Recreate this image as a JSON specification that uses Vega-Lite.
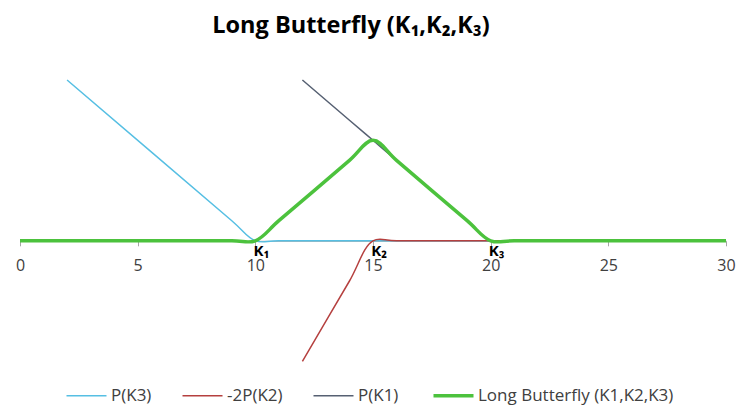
{
  "$schema": "https://vega.github.io/schema/vega-lite/v6.json",
  "width": 706,
  "height": 281.4,
  "autosize": {"type": "none"},
  "padding": {"left": 20, "top": 80, "right": 12, "bottom": 45.6},
  "background": "white",
  "title": {
    "text": "Long Butterfly (K₁,K₂,K₃)",
    "font": "Open Sans",
    "fontSize": 23.5,
    "fontWeight": "bold",
    "color": "#000000",
    "anchor": "middle",
    "frame": "group",
    "dx": -22,
    "offset": 40
  },
  "config": {"view": {"stroke": null}, "font": "Open Sans"},
  "datasets": {
    "lines": [
      {"series": "P(K3)", "x": 2, "y": 8},
      {"series": "P(K3)", "x": 9, "y": 1},
      {"series": "P(K3)", "x": 10, "y": 0},
      {"series": "P(K3)", "x": 11, "y": 0},
      {"series": "P(K3)", "x": 30, "y": 0},
      {"series": "-2P(K2)", "x": 12, "y": -6},
      {"series": "-2P(K2)", "x": 14, "y": -2},
      {"series": "-2P(K2)", "x": 15, "y": 0},
      {"series": "-2P(K2)", "x": 16, "y": 0},
      {"series": "-2P(K2)", "x": 30, "y": 0},
      {"series": "P(K1)", "x": 12, "y": 8},
      {"series": "P(K1)", "x": 14, "y": 6},
      {"series": "P(K1)", "x": 15, "y": 5},
      {"series": "P(K1)", "x": 16, "y": 4},
      {"series": "P(K1)", "x": 19, "y": 1},
      {"series": "P(K1)", "x": 20, "y": 0},
      {"series": "P(K1)", "x": 21, "y": 0},
      {"series": "P(K1)", "x": 30, "y": 0},
      {"series": "Long Butterfly (K1,K2,K3)", "x": 0, "y": 0},
      {"series": "Long Butterfly (K1,K2,K3)", "x": 9, "y": 0},
      {"series": "Long Butterfly (K1,K2,K3)", "x": 10, "y": 0},
      {"series": "Long Butterfly (K1,K2,K3)", "x": 11, "y": 1},
      {"series": "Long Butterfly (K1,K2,K3)", "x": 14, "y": 4},
      {"series": "Long Butterfly (K1,K2,K3)", "x": 15, "y": 5},
      {"series": "Long Butterfly (K1,K2,K3)", "x": 16, "y": 4},
      {"series": "Long Butterfly (K1,K2,K3)", "x": 19, "y": 1},
      {"series": "Long Butterfly (K1,K2,K3)", "x": 20, "y": 0},
      {"series": "Long Butterfly (K1,K2,K3)", "x": 21, "y": 0},
      {"series": "Long Butterfly (K1,K2,K3)", "x": 30, "y": 0}
    ],
    "labels": [
      {"x": 10, "label": "K₁"},
      {"x": 15, "label": "K₂"},
      {"x": 20, "label": "K₃"}
    ]
  },
  "layer": [
    {
      "data": {"name": "lines"},
      "mark": {"type": "line", "interpolate": "catmull-rom"},
      "encoding": {
        "x": {
          "field": "x",
          "type": "quantitative",
          "scale": {"domain": [0, 30], "nice": false, "zero": false},
          "axis": {
            "values": [0, 5, 10, 15, 20, 25, 30],
            "offset": -120.6,
            "title": null,
            "grid": false,
            "labelFlush": false,
            "domainColor": "#a6a6a6",
            "tickColor": "#a6a6a6",
            "tickSize": 5,
            "labelFont": "Open Sans",
            "labelFontSize": 16,
            "labelColor": "#404040",
            "labelPadding": 12
          }
        },
        "y": {
          "field": "y",
          "type": "quantitative",
          "scale": {"domain": [-6, 8], "nice": false, "zero": false},
          "axis": null
        },
        "color": {
          "field": "series",
          "type": "nominal",
          "scale": {
            "domain": ["P(K3)", "-2P(K2)", "P(K1)", "Long Butterfly (K1,K2,K3)"],
            "range": ["#56bfe3", "#b5403f", "#566072", "#4cc23d"]
          },
          "legend": {
            "orient": "none",
            "legendX": 58,
            "legendY": 307,
            "direction": "horizontal",
            "title": null,
            "symbolType": "stroke",
            "symbolSize": 1600,
            "symbolStrokeWidth": 1.5,
            "labelFont": "Open Sans",
            "labelFontSize": 17,
            "labelColor": "#404040",
            "labelOffset": 16,
            "columnPadding": 27,
            "labelLimit": 400,
            "encode": {
              "symbols": {
                "update": {
                  "strokeWidth": {"signal": "datum.value === 'Long Butterfly (K1,K2,K3)' ? 3.5 : 1.5"}
                }
              }
            }
          }
        },
        "strokeWidth": {
          "condition": {"test": "datum.series === 'Long Butterfly (K1,K2,K3)'", "value": 3.5},
          "value": 1.5
        }
      }
    },
    {
      "data": {"name": "labels"},
      "mark": {
        "type": "text",
        "font": "Open Sans",
        "fontWeight": "bold",
        "fontSize": 15,
        "color": "#000000",
        "dx": 6,
        "dy": 10,
        "align": "center",
        "baseline": "middle"
      },
      "encoding": {
        "x": {"field": "x", "type": "quantitative"},
        "y": {"datum": 0},
        "text": {"field": "label"}
      }
    }
  ]
}
